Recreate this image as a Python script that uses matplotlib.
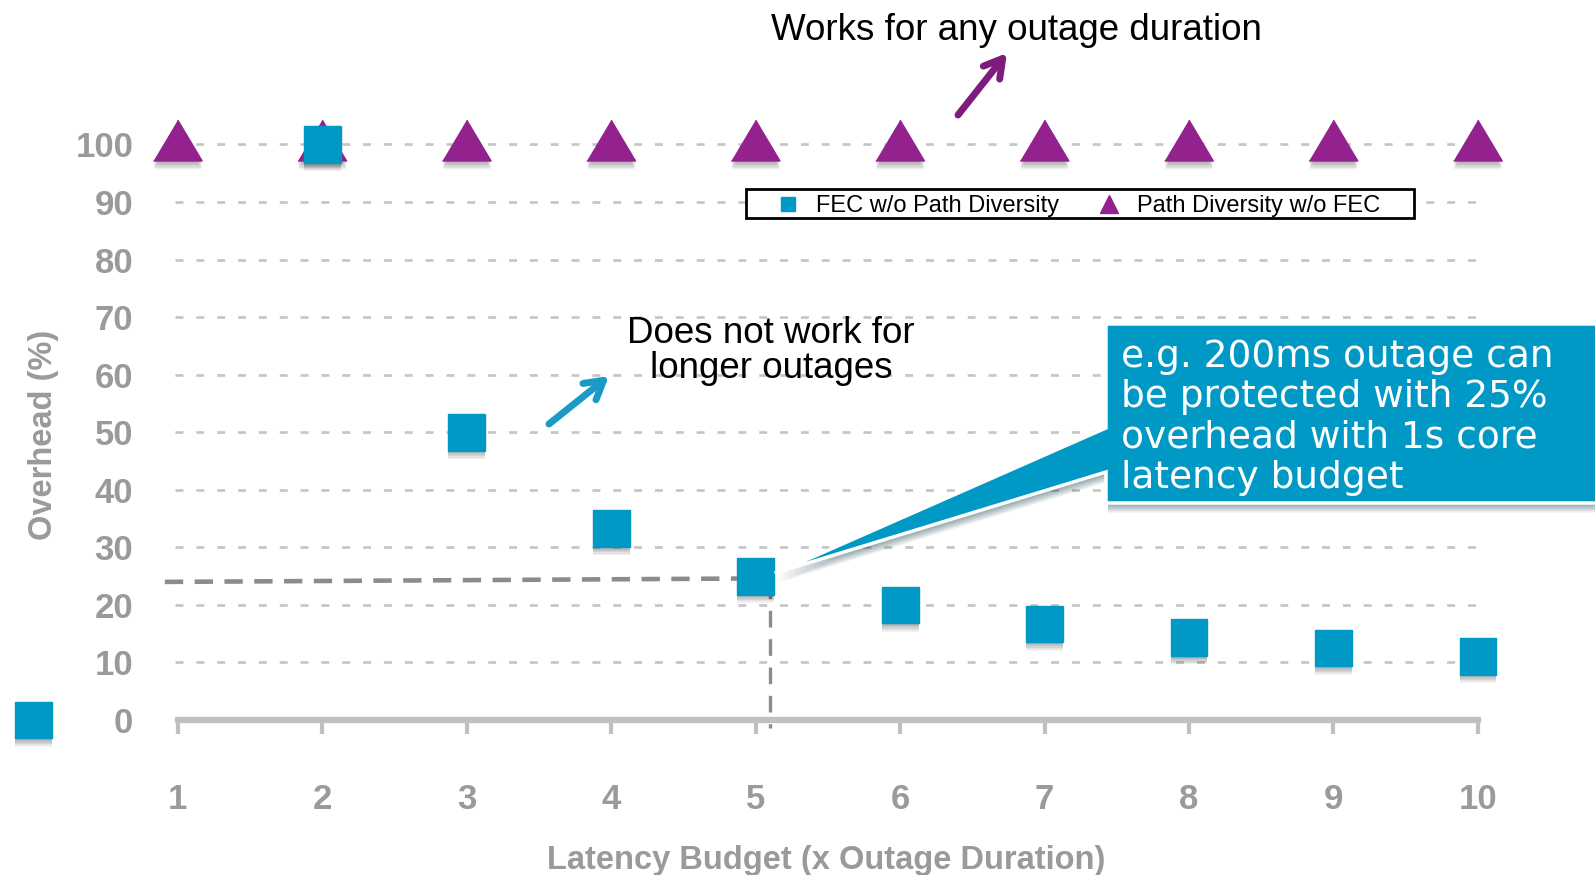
import matplotlib.pyplot as plt
import matplotlib.patheffects as pe
from matplotlib.lines import Line2D
from matplotlib.patches import Polygon, Rectangle

# Overhead of each protection scheme vs latency budget
fec_budget = [0, 2, 3, 4, 5, 6, 7, 8, 9, 10]
fec_overhead = [0, 100, 50, 33.3, 25, 20, 16.7, 14.3, 12.5, 11.1]
path_budget = [1, 2, 3, 4, 5, 6, 7, 8, 9, 10]
path_overhead = [100, 100, 100, 100, 100, 100, 100, 100, 100, 100]

x_ticks = [1, 2, 3, 4, 5, 6, 7, 8, 9, 10]
y_ticks = [0, 10, 20, 30, 40, 50, 60, 70, 80, 90, 100]

fec_label = 'FEC w/o Path Diversity'
path_label = 'Path Diversity w/o FEC'
callout_text = ('e.g. 200ms outage can\nbe protected with 25%\n'
                'overhead with 1s core\nlatency budget')
highlight = (5, 25)  # the budget/overhead pair the callout talks about

BLUE = '#0098c4'
PURPLE = '#93228f'
GREY = '#9a9a9a'
narrow = ['Liberation Sans Narrow', 'Liberation Sans', 'DejaVu Sans']
arial = ['Liberation Sans', 'DejaVu Sans']

W, H = 1595, 875


def fig_xy(px, py):
    """pixel position (from top left) -> figure fraction"""
    return px / W, 1 - py / H


fig = plt.figure(figsize=(W / 100, H / 100), dpi=100)
ax = fig.add_axes([0.1097, 0.1771, 0.8169, 0.6578])
ax.set_xlim(0.98, 10)
ax.set_ylim(0, 100)

for s in ['top', 'right', 'left']:
    ax.spines[s].set_visible(False)
ax.spines['bottom'].set_color('#c0c0c0')
ax.spines['bottom'].set_linewidth(4.5)
ax.spines['bottom'].set_bounds(1, 10)

ax.set_xticks(x_ticks)
ax.set_yticks(y_ticks)
ax.tick_params(axis='x', length=10, width=3, color='#c0c0c0', pad=35,
               labelsize=25, labelcolor=GREY)
ax.tick_params(axis='y', length=0, pad=30, labelsize=25, labelcolor=GREY)
for lab in ax.get_xticklabels() + ax.get_yticklabels():
    lab.set_fontfamily(narrow)
    lab.set_fontweight('bold')

ax.yaxis.grid(True, color='#c4c4c4', linewidth=1.9, linestyle=(0, (3, 4.9)))
ax.set_axisbelow(True)
for gl in ax.get_ygridlines():
    gl.set_clip_on(False)
ax.get_ygridlines()[0].set_visible(False)

# soft drop shadow under the markers
shadow = [pe.SimplePatchShadow(offset=(0, -d), shadow_rgbFace='black', alpha=0.06)
          for d in (1, 2, 3, 4, 5, 6)] + [pe.Normal()]

tri = [(-1, -0.68), (1, -0.68), (0, 1.0)]
ax.plot(path_budget, path_overhead, linestyle='none', marker=tri, markersize=35,
        color=PURPLE, clip_on=False, path_effects=shadow, zorder=3)
ax.plot(fec_budget, fec_overhead, linestyle='none', marker='s', markersize=26.5,
        color=BLUE, clip_on=False, path_effects=shadow, zorder=4)

# dashed guides to the highlighted point
hx, hy = highlight
ax.plot([0.91, hx], [hy - 1.0, hy - 0.4], color='#8c8c8c', lw=3.3,
        linestyle=(0, (4, 2.5)), clip_on=False, zorder=2)
ax.plot([hx + 0.1, hx + 0.1], [hy - 1, -1.3], color='#8c8c8c', lw=2.4,
        linestyle=(0, (5, 3.5)), clip_on=False, zorder=2)

# legend: framed box with the two entries centred inside
box = (0.4379, 0.8728, 0.5129, 0.0495)
ax.add_patch(Rectangle(box[:2], box[2], box[3], transform=ax.transAxes,
                       facecolor='white', edgecolor='black', lw=2, zorder=4.5))
handles = [Line2D([], [], linestyle='none', marker='s', markersize=9.5, color=BLUE),
           Line2D([], [], linestyle='none', marker='^', markersize=13, color=PURPLE)]
leg = ax.legend(handles, [fec_label, path_label], ncol=2, loc='center',
                bbox_to_anchor=(box[0] + box[2] / 2 - 0.002,
                                box[1] + box[3] / 2 - 0.005),
                frameon=False, prop={'family': arial, 'size': 17},
                handlelength=1.2, handletextpad=0.6, columnspacing=1.5,
                borderpad=0, borderaxespad=0)
leg.set_zorder(5)

fig.text(*fig_xy(44, 435), 'Overhead (%)', rotation=90, ha='center', va='center',
         fontsize=23.5, fontweight='bold', color=GREY, family=arial)
fig.text(*fig_xy(826, 860), 'Latency Budget (x Outage Duration)', ha='center',
         va='center', fontsize=23.5, fontweight='bold', color=GREY, family=arial)

# annotations
fig.text(*fig_xy(1016, 30), 'Works for any outage duration', ha='center',
         va='center', fontsize=26.5, color='black', family=arial)
fig.text(*fig_xy(771, 351), 'Does not work for\nlonger outages', ha='center',
         va='center', fontsize=26.5, color='black', family=arial, linespacing=1.0)

arrow = dict(arrowstyle='->,head_length=1.3,head_width=0.75', lw=5,
             shrinkA=0, shrinkB=0, capstyle='round', joinstyle='round')
fig.add_artist(plt.Annotation('', xy=fig_xy(1007, 53), xytext=fig_xy(958, 115),
                              xycoords='figure fraction',
                              arrowprops=dict(arrow, color='#7e1b7c')))
fig.add_artist(plt.Annotation('', xy=fig_xy(609, 376), xytext=fig_xy(549, 424),
                              xycoords='figure fraction',
                              arrowprops=dict(arrow, color='#1b9ac8')))

# callout box with its pointer to the highlighted point
fig.canvas.draw()
tip = ax.transData.transform(highlight)
tx, ty = tip[0], H - tip[1]
box_pts = [(1106, 324), (1600, 324), (1600, 503), (1106, 503), (1106, 472),
           (tx + 19, ty - 3), (tx + 59, ty - 20), (1106, 428)]
callout = Polygon([fig_xy(*p) for p in box_pts], closed=True,
                  transform=fig.transFigure, facecolor=BLUE, edgecolor='white',
                  lw=2.5, zorder=5,
                  path_effects=[pe.SimplePatchShadow(offset=(1.5, -d), alpha=0.07)
                                for d in (1, 2, 3, 4, 5, 6, 7)] + [pe.Normal()])
fig.add_artist(callout)
fig.text(*fig_xy(1121, 339), callout_text, ha='left', va='top', fontsize=27,
         color='white', family='DejaVu Sans', linespacing=1.16, zorder=6)

fig.savefig('out.png', dpi=100, facecolor='white')
